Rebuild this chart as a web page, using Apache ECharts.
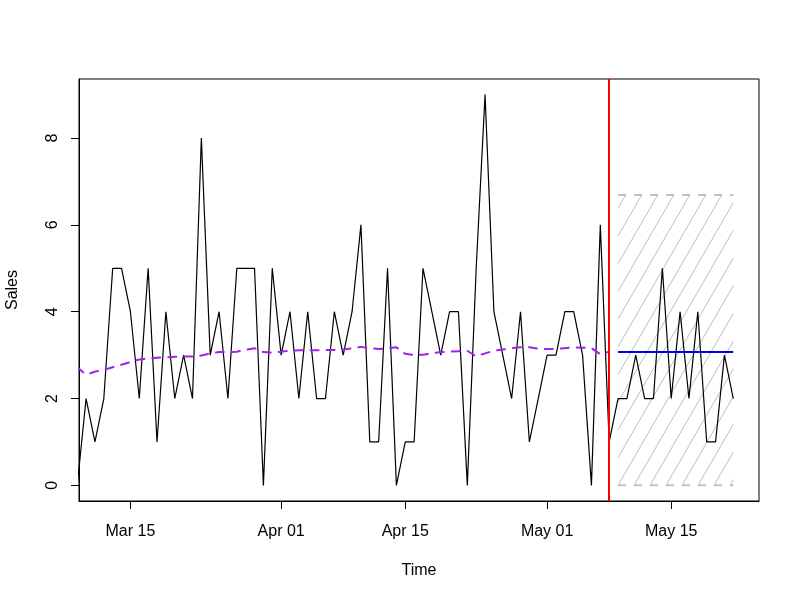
<!doctype html>
<html>
<head>
    <meta charset="utf-8">
    <title>Sales forecast</title>
    <style>
        html, body{
            margin: 0;
            padding: 0;
            background-color: #fff;
        }
        #chartBox{
            width: 800px;
            height: 600px;
        }
    </style>
</head>
<body>
    <div id="chartBox"></div>
</body>
<script type="text/javascript" src="https://cdn.jsdelivr.net/npm/echarts@6/dist/echarts.min.js"></script>
<script type="text/javascript">
    //日销量 (Mar 09 - May 22)
    var startDay = Date.UTC(2023, 2, 9);
    var dayMs = 24 * 3600 * 1000;
    var sales = [0,2,1,2,5,5,4,2,5,1, 4,2,3,2,8,3,4,2,5,5, 5,0,5,3,4,2,4,2,2,4,
                 3,4,6,1,1,5,0,1,1,5, 4,3,4,4,0,5,9,4,3,2, 4,1,2,3,3,4,4,3,0,6,
                 1,2,2,3,2,2,5,2,4,2, 4,1,1,3,2];
    //拟合值 (Mar 09 - May 08)
    var fitted = [2.72,2.55,2.62,2.66,2.72,2.78,2.84,2.90,2.92,2.94,
                  2.95,2.96,2.97,2.97,2.99,3.04,3.07,3.07,3.08,3.12,
                  3.16,3.07,3.06,3.08,3.10,3.11,3.11,3.11,3.12,3.12,
                  3.13,3.16,3.19,3.16,3.14,3.16,3.18,3.03,3.00,3.01,
                  3.04,3.07,3.08,3.09,3.10,2.97,3.04,3.10,3.13,3.16,
                  3.18,3.18,3.15,3.14,3.14,3.16,3.18,3.17,3.16,3.02,3.08];
    //预测 (May 09 - May 22)
    var fcMean  = [3.07,3.07,3.07,3.07,3.07,3.07,3.07,3.07,3.07,3.07,3.07,3.07,3.07,3.07];
    var fcUpper = [6.69,6.69,6.69,6.69,6.69,6.69,6.69,6.69,6.69,6.69,6.69,6.69,6.69,6.69];
    var fcLower = [0,0,0,0,0,0,0,0,0,0,0,0,0,0];
    //刻度
    var tickDays = [Date.UTC(2023,2,15), Date.UTC(2023,3,1), Date.UTC(2023,3,15), Date.UTC(2023,4,1), Date.UTC(2023,4,15)];
    var yTicks = [0, 2, 4, 6, 8];
    var monthNames = ['Jan','Feb','Mar','Apr','May','Jun','Jul','Aug','Sep','Oct','Nov','Dec'];

    var fcStartIdx = fitted.length; // first forecast day
    function dayAt(i){ return startDay + i * dayMs; }

    var salesData = [], fittedData = [], meanData = [], upperData = [], lowerData = [];
    for (var i = 0; i < sales.length; i++) salesData.push([dayAt(i), sales[i]]);
    for (var i = 0; i < fitted.length; i++) fittedData.push([dayAt(i), fitted[i]]);
    for (var i = 0; i < fcMean.length; i++) {
        meanData.push([dayAt(fcStartIdx + i), fcMean[i]]);
        upperData.push([dayAt(fcStartIdx + i), fcUpper[i]]);
        lowerData.push([dayAt(fcStartIdx + i), fcLower[i]]);
    }
    var splitDay = dayAt(fcStartIdx - 1);
    var hatchBox = [[dayAt(fcStartIdx), dayAt(fcStartIdx + fcMean.length - 1),
                     Math.min.apply(null, fcLower), Math.max.apply(null, fcUpper)]];

    var font = 'Liberation Sans';
    var txt = {fontFamily: font, fontSize: 16, color: '#000'};

    //斜线阴影
    function renderHatch(params, api){
        var p0 = api.coord([api.value(0), api.value(3)]);
        var p1 = api.coord([api.value(1), api.value(2)]);
        var xL = p0[0], yT = p0[1], xR = p1[0], yB = p1[1];
        var w = xR - xL, h = yB - yT;
        var ang = 60 * Math.PI / 180, cs = Math.cos(ang), sn = Math.sin(ang);
        var step = 16;
        var children = [];
        var c = -Math.floor(h * cs / sn / step) * step;
        for (; c < w; c += step) {
            var t0 = Math.max(0, -c / cs);
            var t1 = Math.min(h / sn, (w - c) / cs);
            if (t1 <= t0) continue;
            children.push({
                type: 'line',
                shape: {
                    x1: xL + c + t0 * cs, y1: yB - t0 * sn,
                    x2: xL + c + t1 * cs, y2: yB - t1 * sn
                },
                style: {stroke: '#BEBEBE', lineWidth: 1}
            });
        }
        return {type: 'group', children: children};
    }

    var myChart = echarts.init(document.getElementById('chartBox'));
    var option = {
        animation: false,
        backgroundColor: '#fff',
        grid: {
            left: 79, right: 41, top: 79, bottom: 99,
            containLabel: false,
            outerBoundsMode: 'none',
            show: true,
            borderColor: '#000',
            borderWidth: 1,
            backgroundColor: 'transparent'
        },
        xAxis: {
            type: 'value',
            min: startDay + 0.2 * dayMs,
            max: startDay + 76.9 * dayMs,
            name: 'Time',
            nameLocation: 'middle',
            nameGap: 62,
            nameTextStyle: txt,
            axisLine: {show: true, onZero: false, lineStyle: {color: '#000', width: 1}},
            axisTick: {show: true, length: 8, lineStyle: {color: '#000'}, customValues: tickDays},
            axisLabel: {
                customValues: tickDays,
                margin: 23,
                fontFamily: font, fontSize: 16, color: '#000',
                formatter: function(v){
                    var d = new Date(v);
                    var dd = d.getUTCDate();
                    return monthNames[d.getUTCMonth()] + ' ' + (dd < 10 ? '0' + dd : dd);
                }
            },
            splitLine: {show: false}
        },
        yAxis: {
            type: 'value',
            min: -0.36,
            max: 9.36,
            name: 'Sales',
            nameLocation: 'middle',
            nameGap: 58,
            nameTextStyle: txt,
            axisLine: {show: true, onZero: false, lineStyle: {color: '#000', width: 1}},
            axisTick: {show: true, length: 8, lineStyle: {color: '#000'}, customValues: yTicks},
            axisLabel: {
                customValues: yTicks,
                rotate: 90,
                margin: 18,
                fontFamily: font, fontSize: 16, color: '#000'
            },
            splitLine: {show: false}
        },
        series: [
            {
                type: 'custom',
                name: 'hatch',
                renderItem: renderHatch,
                data: hatchBox,
                encode: {x: [0, 1], y: [2, 3]},
                silent: true,
                z: 1
            },
            {
                type: 'line', name: 'upper', data: upperData, showSymbol: false, silent: true,
                lineStyle: {color: '#BEBEBE', width: 2, type: [8, 8]}, z: 2
            },
            {
                type: 'line', name: 'lower', data: lowerData, showSymbol: false, silent: true,
                lineStyle: {color: '#BEBEBE', width: 2, type: [8, 8]}, z: 2
            },
            {
                type: 'line', name: 'sales', data: salesData, showSymbol: false, silent: true,
                lineStyle: {color: '#000', width: 1.2}, z: 3,
                markLine: {
                    symbol: 'none',
                    silent: true,
                    label: {show: false},
                    lineStyle: {color: '#FF0000', width: 2, type: 'solid'},
                    data: [{xAxis: splitDay}]
                }
            },
            {
                type: 'line', name: 'fitted', data: fittedData, showSymbol: false, silent: true,
                lineStyle: {color: '#A020F0', width: 2, type: [8, 8], cap: 'round'}, z: 4
            },
            {
                type: 'line', name: 'mean', data: meanData, showSymbol: false, silent: true,
                lineStyle: {color: '#0000FF', width: 2}, z: 4
            }
        ]
    };
    myChart.setOption(option);
</script>
</html>
